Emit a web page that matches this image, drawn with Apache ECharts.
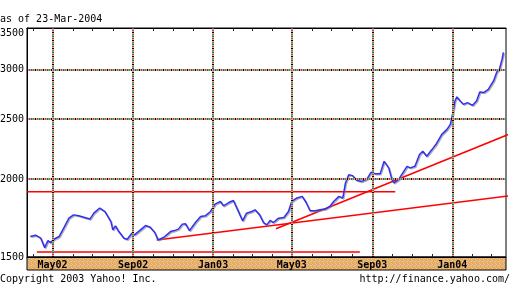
<!DOCTYPE html>
<html><head><meta charset="utf-8">
<script src="https://cdn.jsdelivr.net/npm/echarts@6/dist/echarts.min.js"></script>
<style>html,body{margin:0;padding:0;background:#fff}#c{width:511px;height:287px}</style>
</head><body><div id="c"></div>
<script>
const asOfText = 'as of 23-Mar-2004';
const copyrightText = 'Copyright 2003 Yahoo! Inc.';
const sourceText = 'http://finance.yahoo.com/';
const axisStart = '2002-03-23';
const axisEnd = '2004-03-23';
const yTickValues = [1500, 2000, 2500, 3000, 3500];
const yGridValues = [2000, 2500, 3000];
const monthTicks = ['2002-04-01','2002-05-01','2002-06-01','2002-07-01','2002-08-01','2002-09-01','2002-10-01','2002-11-01','2002-12-01',
  '2003-01-01','2003-02-01','2003-03-01','2003-04-01','2003-05-01','2003-06-01','2003-07-01','2003-08-01','2003-09-01','2003-10-01','2003-11-01','2003-12-01',
  '2004-01-01','2004-02-01','2004-03-01'];
const xLabelDates = ['2002-05-01','2002-09-01','2003-01-01','2003-05-01','2003-09-01','2004-01-01'];
const xLabelTexts = ['May02','Sep02','Jan03','May03','Sep03','Jan04'];

const priceDates = ['2002-03-28','2002-04-05','2002-04-13','2002-04-19','2002-04-24','2002-04-28','2002-05-03','2002-05-11','2002-05-18','2002-05-26',
  '2002-06-02','2002-06-10','2002-06-19','2002-06-27','2002-07-03','2002-07-12','2002-07-20','2002-07-29','2002-08-01','2002-08-05',
  '2002-08-10','2002-08-18','2002-08-23','2002-08-30','2002-09-03','2002-09-09','2002-09-20','2002-09-27','2002-10-04','2002-10-09',
  '2002-10-18','2002-10-28','2002-11-03','2002-11-09','2002-11-15','2002-11-20','2002-11-26','2002-12-05','2002-12-13','2002-12-20',
  '2002-12-28','2003-01-04','2003-01-12','2003-01-17','2003-01-25','2003-02-01','2003-02-07','2003-02-15','2003-02-21','2003-03-01',
  '2003-03-06','2003-03-13','2003-03-19','2003-03-24','2003-03-29','2003-04-03','2003-04-11','2003-04-19','2003-04-26','2003-05-01',
  '2003-05-09','2003-05-17','2003-05-23','2003-05-29','2003-06-06','2003-06-13','2003-06-21','2003-06-29','2003-07-04','2003-07-12',
  '2003-07-18','2003-07-22','2003-07-27','2003-08-02','2003-08-08','2003-08-16','2003-08-24','2003-08-30','2003-09-05','2003-09-13',
  '2003-09-19','2003-09-26','2003-10-01','2003-10-04','2003-10-11','2003-10-19','2003-10-24','2003-10-29','2003-11-05','2003-11-12',
  '2003-11-17','2003-11-23','2003-12-01','2003-12-08','2003-12-16','2003-12-24','2003-12-29','2004-01-02','2004-01-05','2004-01-08',
  '2004-01-13','2004-01-18','2004-01-24','2004-02-01','2004-02-07','2004-02-12','2004-02-18','2004-02-25','2004-03-04','2004-03-09',
  '2004-03-13','2004-03-17','2004-03-19'];
const priceValues = [1618,1626,1608,1553,1594,1582,1602,1618,1669,1732,
  1753,1747,1736,1726,1764,1798,1775,1710,1658,1683,
  1648,1608,1602,1638,1628,1648,1685,1675,1642,1598,
  1614,1648,1654,1663,1694,1696,1654,1704,1742,1747,
  1775,1824,1842,1813,1835,1849,1791,1715,1764,1775,
  1786,1753,1704,1689,1717,1704,1732,1736,1775,1842,
  1866,1877,1835,1780,1780,1786,1791,1813,1842,1877,
  1866,1973,2034,2027,1992,1984,2002,2052,2042,2042,
  2137,2086,1997,1973,1997,2059,2098,2086,2098,2191,
  2218,2178,2232,2283,2361,2405,2450,2559,2672,2712,
  2672,2639,2656,2629,2672,2762,2756,2790,2878,2975,
  3005,3119,3198];

const resistDates = ['2002-03-23','2003-10-06'];
const resistValues = [1910, 1910];
const supportDates = ['2002-04-07','2003-08-13'];
const supportValues = [1528, 1528];
const trend1Dates = ['2002-10-07','2004-03-30'];
const trend1Values = [1598, 1882];
const trend2Dates = ['2003-04-07','2004-03-30'];
const trend2Values = [1665, 2368];

const FONT = 'DejaVu Sans Mono';
const gridColors = ['#000000','#f0a030','#30a040','#9a9a9a','#3050e0','#f0a030','#e03030','#b0b0b0'];
const ts = d => Date.UTC(+d.slice(0,4), +d.slice(5,7) - 1, +d.slice(8,10));

// speckled orange band pattern
const pc = document.createElement('canvas'); pc.width = 4; pc.height = 4;
const pctx = pc.getContext('2d');
pctx.fillStyle = '#f0a850'; pctx.fillRect(0,0,4,4);
pctx.fillStyle = '#d2cabc';
[[0,0],[2,1],[1,2],[3,3],[3,1]].forEach(([x,y]) => pctx.fillRect(x,y,1,1));

const pairs = (d, v) => d.map((x,i) => [ts(x), v[i]]);
const redLine = (name, d, v) => ({
  name, type:'line', xAxisIndex:0, yAxisIndex:0, data: pairs(d, v), symbol:'none', clip:false,
  lineStyle:{color:'#ff0000', width:1.5}, silent:true, z:3
});

const gridSeries = gridColors.map((c, i) => ({
  type:'line', xAxisIndex:0, yAxisIndex:0, data:[], silent:true, z:2,
  markLine:{
    silent:true, symbol:['none','none'], animation:false,
    label:{show:false},
    lineStyle:{color:c, width:2, type:[1, gridColors.length-1], dashOffset:i},
    data:[...yGridValues.map(v => ({yAxis:v})), ...xLabelDates.map(d => ({xAxis:ts(d)}))]
  }
}));

const labelSeries = {
  type:'line', xAxisIndex:0, yAxisIndex:0, data:[], silent:true, z:5,
  markLine:{
    silent:true, symbol:['none','none'], animation:false,
    lineStyle:{color:'rgba(0,0,0,0)', width:0},
    label:{show:true, position:'start', distance:3, formatter:p => String(p.value),
      fontFamily:FONT, fontSize:10, color:'#000'},
    data: yTickValues.map(v => ({yAxis:v, label: v === 3500 ? {offset:[0,5]} : {}}))
  }
};

const xFmt = (val) => { const i = xLabelDates.findIndex(d => Math.abs(ts(d) - val) < 864e5); return i >= 0 ? xLabelTexts[i] : ''; };

const option = {
  animation:false,
  backgroundColor:'#fff',
  title:[
    {text:asOfText, left:0, top:14, padding:0, textStyle:{fontFamily:FONT, fontSize:10, fontWeight:'normal', color:'#000'}},
    {text:copyrightText, left:0, top:274, padding:0, textStyle:{fontFamily:FONT, fontSize:10, fontWeight:'normal', color:'#000'}},
    {text:sourceText, right:1, top:274, padding:0, textStyle:{fontFamily:FONT, fontSize:10, fontWeight:'normal', color:'#000'}}
  ],
  grid:[
    {left:27, top:28, width:479, height:229, show:true, borderColor:'#000', borderWidth:1, backgroundColor:'#fff'},
    {left:27, top:257, width:479, height:13, show:true, borderColor:'#000', borderWidth:1, backgroundColor:{image:pc, repeat:'repeat'}}
  ],
  xAxis:[
    {gridIndex:0, type:'value', min:ts(axisStart), max:ts(axisEnd),
      axisLine:{show:true, lineStyle:{color:'#000'}},
      axisTick:{show:true, inside:true, length:3, customValues:monthTicks.map(ts), lineStyle:{color:'#223'}},
      axisLabel:{show:true, customValues:xLabelDates.map(ts), margin:3, fontFamily:FONT, fontSize:10, fontWeight:'bold', color:'#000', formatter:xFmt},
      splitLine:{show:false}},
    {gridIndex:0, type:'value', position:'top', min:ts(axisStart), max:ts(axisEnd),
      axisLine:{show:true, lineStyle:{color:'#000'}},
      axisTick:{show:true, inside:true, length:3, customValues:monthTicks.map(ts), lineStyle:{color:'#223'}},
      axisLabel:{show:false}, splitLine:{show:false}},
    {gridIndex:1, type:'value', min:ts(axisStart), max:ts(axisEnd), show:false}
  ],
  yAxis:[
    {gridIndex:0, type:'log', min:1500, max:3500,
      axisLine:{show:true, lineStyle:{color:'#000'}}, axisTick:{show:false}, axisLabel:{show:false}, splitLine:{show:false}},
    {gridIndex:1, type:'value', show:false}
  ],
  series:[
    ...gridSeries,
    labelSeries,
    redLine('resistance', resistDates, resistValues),
    redLine('support', supportDates, supportValues),
    redLine('trend1', trend1Dates, trend1Values),
    redLine('trend2', trend2Dates, trend2Values),
    {name:'price', type:'line', xAxisIndex:0, yAxisIndex:0, data:pairs(priceDates, priceValues), symbol:'none', z:4,
      lineStyle:{color:'#3030ee', width:1.5, shadowColor:'rgba(120,120,140,0.6)', shadowOffsetX:1, shadowOffsetY:1, shadowBlur:0}}
  ]
};
const chart = echarts.init(document.getElementById('c'));
chart.setOption(option);
</script></body></html>
